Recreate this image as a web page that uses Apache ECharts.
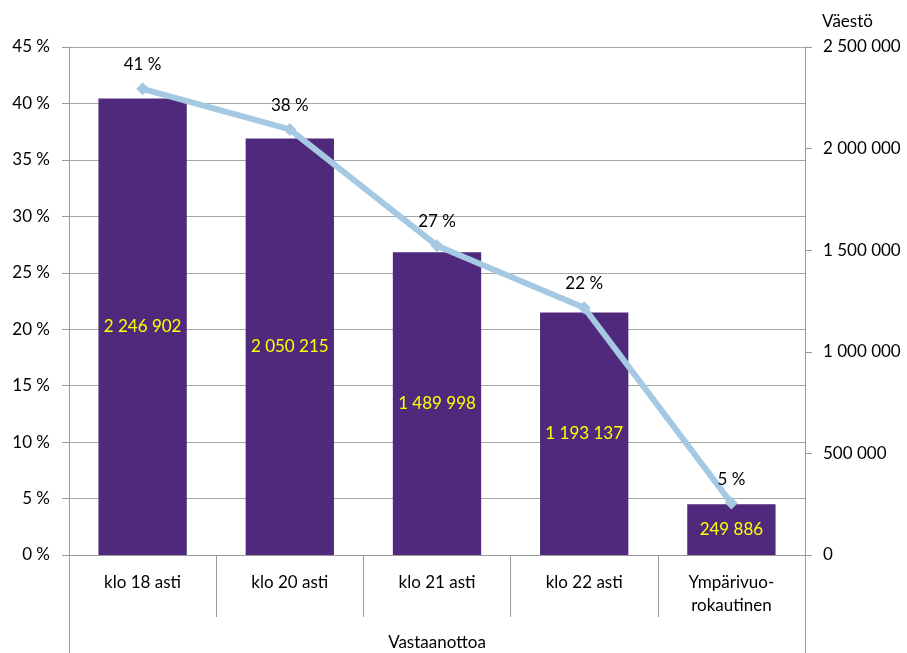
<!DOCTYPE html>
<html><head><meta charset="utf-8">
<script src="https://cdn.jsdelivr.net/npm/echarts@6/dist/echarts.min.js"></script>
<style>html,body{margin:0;padding:0;background:#fff}#c{width:907px;height:653px}</style>
</head><body><div id="c"></div>
<script>
var categories = ['klo 18 asti', 'klo 20 asti', 'klo 21 asti', 'klo 22 asti', 'Ympärivuo-\nrokautinen'];
var population = [2246902, 2050215, 1489998, 1193137, 249886];
var sharePct = [41.3, 37.7, 27.4, 21.9, 4.6];
var groupLabel = ['Vastaanottoa'];
var rightAxisName = 'Väestö';

var FONT = 'Lato';
var FS = 17;
var grey = '#9a9a9a';
function sp(n){ return String(n).replace(/\B(?=(\d{3})+(?!\d))/g, ' '); }

var chart = echarts.init(document.getElementById('c'));
chart.setOption({
  animation: false,
  textStyle: {fontFamily: FONT},
  grid: {left: 69, right: 102, top: 47, bottom: 98, containLabel: false},
  xAxis: [{
    type: 'category', data: categories, position: 'bottom',
    axisLine: {show: true, lineStyle: {color: grey, width: 1}},
    axisTick: {show: true, alignWithLabel: false, interval: 0, length: 62, lineStyle: {color: grey}},
    axisLabel: {interval: 0, color: '#000', fontSize: FS, margin: 16, lineHeight: 23, fontFamily: FONT}
  }, {
    type: 'category', data: groupLabel, position: 'bottom',
    axisLine: {show: false},
    axisTick: {show: true, alignWithLabel: false, length: 100, lineStyle: {color: grey}},
    axisLabel: {color: '#000', fontSize: FS, margin: 79, fontFamily: FONT}
  }],
  yAxis: [{
    type: 'value', min: 0, max: 45, interval: 5, position: 'left',
    axisLine: {show: true, lineStyle: {color: grey}},
    axisTick: {show: true, length: 7, lineStyle: {color: grey}},
    splitLine: {show: true, lineStyle: {color: '#a6a6a6', width: 1}},
    axisLabel: {color: '#000', fontSize: FS, margin: 19, fontFamily: FONT, formatter: function(v){return v + ' %';}}
  }, {
    type: 'value', min: 0, max: 2500000, interval: 500000, position: 'right',
    name: rightAxisName, nameLocation: 'end', nameGap: 17,
    nameTextStyle: {color: '#000', fontSize: FS, align: 'left', padding: [0, 0, 0, 17], fontFamily: FONT},
    axisLine: {show: true, lineStyle: {color: grey}},
    axisTick: {show: true, length: 7, lineStyle: {color: grey}},
    splitLine: {show: false},
    axisLabel: {color: '#000', fontSize: FS, margin: 18, align: 'left', fontFamily: FONT, formatter: function(v){return sp(v);}}
  }],
  series: [{
    type: 'bar', data: population, yAxisIndex: 1, xAxisIndex: 0,
    barCategoryGap: '40%',
    itemStyle: {color: '#4f2a7c'},
    label: {show: true, position: 'inside', color: '#ffff00', fontSize: FS, fontFamily: FONT,
      formatter: function(p){return sp(p.value);}}
  }, {
    type: 'line', data: sharePct, yAxisIndex: 0, xAxisIndex: 0,
    lineStyle: {color: '#a6c9e3', width: 6},
    itemStyle: {color: '#a6c9e3'},
    symbol: 'diamond', symbolSize: 13,
    label: {show: true, position: 'top', distance: 9, color: '#000', fontSize: FS, fontFamily: FONT,
      formatter: function(p){return Math.round(p.value) + ' %';}},
    z: 5
  }]
});
</script>
</body></html>
